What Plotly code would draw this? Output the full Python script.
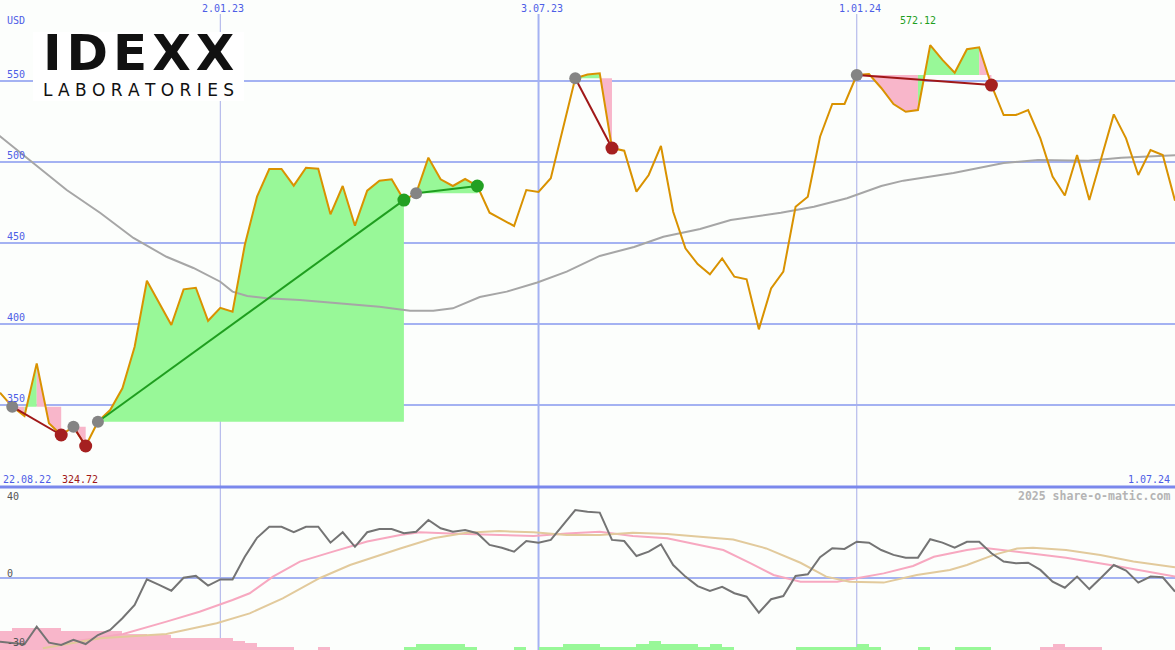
import plotly.graph_objects as go

W, H = 1175, 650
SPLIT_PX = 487          # pixel row of the panel separator
LOW_TOP, LOW_BOT = 38.96, -31.17
P_LO, P_HI = 299.4, 600.0

# ---------------- data ----------------
tick_weeks = [18, 44, 70]
tick_labels = ["2.01.23", "3.07.23", "1.01.24"]
price_levels = [350, 400, 450, 500, 550]
osc_levels = [40, 0, -30]

# weekly closes from 29.08.22 (week 0) to 1.07.24 (week 96)
price = [357.6, 349.0, 343.2, 375.7, 338.7, 331.5, 336.6, 324.72, 339.7, 346.9,
         360.3, 386.0, 426.7, 412.8, 399.4, 421.4, 422.4, 402.0, 410.0, 407.6,
         448.8, 478.6, 495.7, 495.7, 485.4, 496.5, 495.9, 467.7, 485.2, 460.7,
         482.3, 488.5, 489.3, 476.5, 480.7, 502.7, 489.3, 485.2, 489.5, 485.2,
         468.7, 464.6, 460.5, 482.7, 481.5, 490.0, 521.8, 551.7, 554.0, 554.8,
         508.6, 507.0, 481.7, 492.0, 509.9, 469.3, 446.7, 437.0, 430.7, 440.5,
         429.2, 427.6, 396.7, 422.0, 432.3, 472.4, 478.6, 515.6, 535.8, 535.8,
         553.7, 554.3, 545.7, 535.8, 531.0, 532.1, 572.12, 563.0, 555.1, 569.6,
         570.8, 547.5, 529.0, 529.0, 532.1, 514.6, 491.0, 479.3, 504.3, 476.5,
         503.0, 529.4, 514.6, 492.0, 507.4, 504.3, 476.1]
weeks = list(range(len(price)))

# moving average (grey)
ma_weeks = [-0.5, 1.4, 2.7, 5.45, 8.2, 10.9, 13.6, 15.8, 18.0, 19.0, 20.2, 21.8, 24.5,
            31.0, 33.5, 35.4, 37.0, 39.2, 41.4, 43.9, 46.3, 49.0, 51.8, 54.2, 57.2,
            59.7, 63.8, 66.5, 69.2, 72.0, 73.8, 77.9, 82.0, 84.8, 88.9, 91.6, 96.5]
ma_vals = [519.0, 507.4, 499.4, 482.7, 468.5, 453.1, 441.5, 434.6, 426.1, 420.0, 417.3,
           415.9, 414.8, 410.7, 408.2, 408.2, 409.7, 416.7, 420.0, 425.6, 432.3, 442.0,
           447.5, 453.9, 458.6, 464.2, 468.7, 472.4, 477.6, 485.2, 488.5, 493.2, 499.4,
           501.2, 500.8, 502.7, 504.3]

# oscillator (grey, lower panel)
osc = [-27.6, -28.3, -28.7, -21.1, -28.0, -29.0, -26.8, -28.6, -24.7, -22.5,
       -17.4, -11.7, -0.6, -3.0, -5.5, 0.1, 0.9, -3.3, -0.6, -0.6,
       9.2, 17.4, 22.2, 22.2, 19.8, 22.2, 22.2, 15.3, 19.8, 13.5,
       19.8, 21.2, 21.2, 19.4, 20.0, 25.1, 21.5, 20.0, 20.8, 19.4,
       14.3, 13.1, 11.4, 16.0, 15.3, 16.5, 22.9, 29.4, 28.7, 28.3,
       16.5, 16.0, 9.5, 11.4, 14.6, 5.6, 0.6, -3.5, -5.6, -3.8,
       -6.6, -8.1, -15.0, -9.2, -7.8, 0.9, 1.6, 9.0, 12.9, 12.6,
       15.7, 15.3, 12.1, 10.0, 8.8, 8.8, 16.8, 15.3, 13.1, 15.7,
       15.7, 10.7, 7.1, 6.4, 6.6, 3.5, -1.6, -4.2, 0.6, -4.8,
       0.3, 5.6, 3.2, -2.0, 0.6, 0.3, -5.9]

pink_w = [6.0, 10.07, 13.6, 16.3, 19.0, 20.4, 22.3, 24.5, 27.2, 30.0, 32.7, 34.3, 36.8,
          39.5, 40.8, 43.6, 46.3, 49.0, 51.7, 54.5, 57.2, 59.1, 61.3, 63.2, 65.4, 68.4,
          70.0, 72.2, 74.6, 76.3, 79.0, 80.3, 83.1, 87.1, 91.2, 94.0, 96.0]
pink_v = [-27.5, -24.2, -18.9, -14.6, -9.5, -6.6, 0.6, 7.1, 11.4, 15.8, 18.6, 19.8, 19.3,
          19.0, 18.6, 18.2, 19.3, 20.0, 18.2, 17.2, 14.3, 12.1, 6.4, 1.3, -1.6, -1.6,
          -0.1, 2.0, 5.2, 9.2, 12.1, 13.1, 11.4, 8.8, 5.2, 2.7, 0.6]

tan_w = [3.5, 8.2, 13.6, 17.7, 20.4, 23.1, 26.1, 28.6, 32.7, 35.4, 38.1, 40.8, 43.6,
         46.3, 49.0, 51.7, 54.5, 57.2, 59.9, 62.6, 65.4, 67.5, 69.4, 72.2, 74.9, 77.6,
         79.0, 81.2, 83.1, 84.4, 87.1, 89.9, 92.6, 96.0]
tan_v = [-30.4, -26.1, -24.2, -19.6, -15.3, -8.8, -0.1, 5.6, 12.8, 17.2, 19.6, 20.3, 19.8,
         18.6, 18.6, 19.6, 19.0, 17.9, 16.7, 12.8, 6.6, 0.6, -1.6, -2.0, 1.3, 3.5,
         5.6, 10.0, 12.8, 13.1, 12.1, 10.0, 7.1, 4.7]

# weekly signal strength bars (negative = pink, positive = green)
bars = [-8.2, -9.7, -9.7, -9.7, -9.7, -8.2, -8.2, -8.2, -8.2, -8.2,
        -6.9, -6.9, -6.5, -6.5, -5.3, -5.3, -5.3, -5.3, -5.3, -3.9,
        -2.9, -1.4, -1.4, -1.4, 0, 0, -1.4, 0, 0, 0,
        0, 0, 0, 1.4, 2.6, 2.6, 2.6, 2.6, 1.4, 0,
        0, 0, 1.4, 0, 1.4, 1.4, 2.6, 2.6, 2.6, 1.4,
        1.4, 1.4, 2.6, 3.9, 2.6, 2.6, 2.6, 1.4, 2.6, 1.4,
        0, 0, 0, 0, 0, 1.4, 1.4, 1.4, 1.4, 1.4,
        2.6, 1.4, 0, 0, 0, 1.4, 0, 0, 1.4, 1.4,
        1.4, 0, 0, 0, 0, -1.4, -2.6, -1.4, -1.4, -1.4,
        0, 0, 0, 0, 0, 0, 0]

# trade signals: (start week, end week, kind)
signals = [(1, 5, "sell"), (6, 7, "sell"), (8, 33, "buy"), (34, 39, "buy"),
           (47, 50, "sell"), (70, 81, "sell")]
# shaded parts: (signal start week, from week, to week, colour)
fill_parts = [(1, 1, 2, "pink"), (1, 2, 3, "green"), (1, 3, 5, "pink"),
              (6, 6, 7, "pink"), (8, 8, 33, "green"), (34, 34, 39, "green"),
              (47, 47, 49, "green"), (47, 49, 50, "pink"),
              (70, 70, 75, "pink"), (70, 75, 80, "green"), (70, 80, 81, "pink")]

# ---------------- styles ----------------
BG = "#fcfefc"
GRID = "#a4b2f2"
BLUE_TXT = "#4d5de6"
ORANGE = "#d99200"
MA_GREY = "#a6a6a6"
FILL = {"green": "#98f898", "pink": "#f8b6ca"}
SIG_LINE = {"sell": "#a01818", "buy": "#1f9e1f"}
END_MARK = {"sell": "#a52020", "buy": "#22a022"}
MONO = "DejaVu Sans Mono"


def py(px):
    return 1 - px / H


def pxx(px):
    return px / W


fig = go.Figure()

# shaded trade areas
for s, a, b, col in fill_parts:
    base = price[s]
    xs = weeks[a:b + 1] + [b, a]
    ys = price[a:b + 1] + [base, base]
    fig.add_trace(go.Scatter(x=xs, y=ys, mode="lines", fill="toself",
                             fillcolor=FILL[col], line=dict(width=0),
                             hoverinfo="skip", showlegend=False))

# moving average
fig.add_trace(go.Scatter(x=ma_weeks, y=ma_vals, mode="lines",
                         line=dict(color=MA_GREY, width=2), showlegend=False))
# price line
fig.add_trace(go.Scatter(x=weeks, y=price, mode="lines",
                         line=dict(color=ORANGE, width=2), showlegend=False))

# signal lines and markers
for s, e, kind in signals:
    fig.add_trace(go.Scatter(x=[s, e], y=[price[s], price[e]], mode="lines",
                             line=dict(color=SIG_LINE[kind], width=2), showlegend=False))
for s, e, kind in signals:
    fig.add_trace(go.Scatter(x=[s], y=[price[s]], mode="markers",
                             marker=dict(color="#848484", size=12), showlegend=False))
    fig.add_trace(go.Scatter(x=[e], y=[price[e]], mode="markers",
                             marker=dict(color=END_MARK[kind], size=13), showlegend=False))

# lower panel
fig.add_trace(go.Bar(x=[w + 0.5 for w in weeks], y=[abs(v) for v in bars], base=LOW_BOT,
                     width=1, marker=dict(color=[FILL["green"] if v > 0 else FILL["pink"] for v in bars],
                                          line=dict(width=0)),
                     xaxis="x2", yaxis="y2", showlegend=False))
fig.add_trace(go.Scatter(x=pink_w, y=pink_v, mode="lines", line=dict(color="#f7a8c0", width=2),
                         xaxis="x2", yaxis="y2", showlegend=False))
fig.add_trace(go.Scatter(x=tan_w, y=tan_v, mode="lines", line=dict(color="#e2ca9c", width=2),
                         xaxis="x2", yaxis="y2", showlegend=False))
fig.add_trace(go.Scatter(x=weeks, y=osc, mode="lines", line=dict(color="#747474", width=2),
                         xaxis="x2", yaxis="y2", showlegend=False))

shapes = []
for lv in price_levels:
    shapes.append(dict(type="line", xref="paper", yref="y", x0=0, x1=1, y0=lv, y1=lv,
                       line=dict(color=GRID, width=2), layer="below"))
shapes.append(dict(type="line", xref="paper", yref="y2", x0=0, x1=1, y0=0, y1=0,
                   line=dict(color=GRID, width=2), layer="below"))
for i, w in enumerate(tick_weeks):
    shapes.append(dict(type="line", xref="x", yref="paper", x0=w, x1=w, y0=0, y1=py(14),
                       line=dict(color="#a8aee8" if i != 1 else GRID, width=1 if i != 1 else 2),
                       layer="below"))
shapes.append(dict(type="line", xref="paper", yref="paper", x0=0, x1=1,
                   y0=py(SPLIT_PX), y1=py(SPLIT_PX), line=dict(color="#7a88ec", width=3)))
# white box behind logo
shapes.append(dict(type="rect", xref="paper", yref="paper", x0=pxx(33), x1=pxx(244),
                   y0=py(101), y1=py(32), fillcolor="white", line=dict(width=0), layer="above"))

ann = []
ann.append(dict(text="USD", xref="paper", yref="paper", x=pxx(5), y=py(20), xanchor="left",
                yanchor="middle", showarrow=False, font=dict(family=MONO, size=10, color=BLUE_TXT)))
for lv in price_levels:
    ann.append(dict(text=str(lv), xref="paper", yref="y", x=pxx(5), y=lv, yshift=7,
                    xanchor="left", yanchor="middle", showarrow=False,
                    font=dict(family=MONO, size=10, color=BLUE_TXT)))
for w, t in zip(tick_weeks, tick_labels):
    ann.append(dict(text=t, xref="x", yref="paper", x=w, y=py(8), xshift=3, xanchor="center",
                    yanchor="middle", showarrow=False,
                    font=dict(family=MONO, size=10, color=BLUE_TXT)))
ann.append(dict(text="22.08.22", xref="paper", yref="paper", x=pxx(1), y=py(479), xanchor="left",
                yanchor="middle", showarrow=False, font=dict(family=MONO, size=10, color=BLUE_TXT)))
ann.append(dict(text="1.07.24", xref="paper", yref="paper", x=pxx(1172), y=py(479), xanchor="right",
                yanchor="middle", showarrow=False, font=dict(family=MONO, size=10, color=BLUE_TXT)))
lo_i = price.index(min(price))
hi_i = price.index(max(price))
ann.append(dict(text=f"{price[lo_i]:.2f}", xref="x", yref="paper", x=lo_i, y=py(479), xshift=-6,
                xanchor="center", yanchor="middle", showarrow=False,
                font=dict(family=MONO, size=10, color="#a01818")))
ann.append(dict(text=f"{price[hi_i]:.2f}", xref="x", yref="paper", x=hi_i, y=py(21), xshift=-12,
                xanchor="center", yanchor="middle", showarrow=False,
                font=dict(family=MONO, size=10, color="#1f9e1f")))
ann.append(dict(text="<b>2025 share-o-matic.com</b>", xref="paper", yref="paper", x=pxx(1172),
                y=py(496), xanchor="right", yanchor="middle", showarrow=False,
                font=dict(family=MONO, size=11.5, color="#b4b4b4")))
osc_px = [496, 573, 642]
for lv, p in zip(osc_levels, osc_px):
    ann.append(dict(text=str(lv), xref="paper", yref="paper", x=pxx(5), y=py(p), xanchor="left",
                    yanchor="middle", showarrow=False,
                    font=dict(family=MONO, size=10, color="#555555")))
# logo
ann.append(dict(text="<b>I\u200aD\u200aE\u200aX\u200aX</b>", xref="paper", yref="paper",
                x=pxx(138), y=py(53), xanchor="center", yanchor="middle", showarrow=False,
                font=dict(family="DejaVu Sans", size=50, color="#111111")))
ann.append(dict(text="L A B O R A T O R I E S", xref="paper", yref="paper",
                x=pxx(138), y=py(90), xanchor="center", yanchor="middle", showarrow=False,
                font=dict(family="DejaVu Sans", size=17, color="#111111")))

axis_common = dict(showgrid=False, zeroline=False, showticklabels=False, ticks="",
                   showline=False, fixedrange=True)
fig.update_layout(
    width=W, height=H, margin=dict(l=0, r=0, t=0, b=0),
    paper_bgcolor=BG, plot_bgcolor=BG, showlegend=False, bargap=0,
    xaxis=dict(range=[0, 96], domain=[0, 1], anchor="y", **axis_common),
    yaxis=dict(range=[P_LO, P_HI], domain=[py(SPLIT_PX), 1], anchor="x", **axis_common),
    xaxis2=dict(range=[0, 96], domain=[0, 1], anchor="y2", **axis_common),
    yaxis2=dict(range=[LOW_BOT, LOW_TOP], domain=[0, py(SPLIT_PX + 1)], anchor="x2", **axis_common),
    shapes=shapes, annotations=ann,
)

fig.write_html("out.html", config={"displayModeBar": False},
               post_script="document.body.style.margin='0';document.body.style.padding='0';"
                           "document.body.style.overflow='hidden';")
